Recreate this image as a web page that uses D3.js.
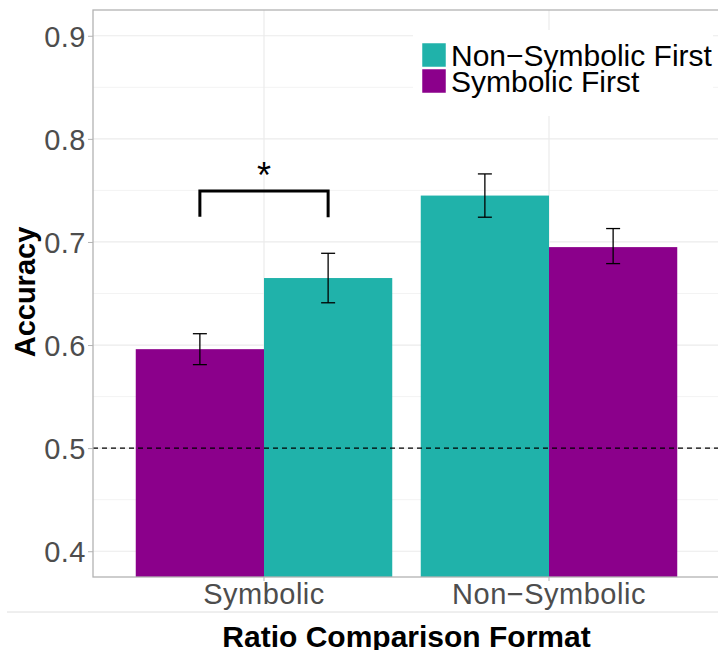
<!DOCTYPE html>
<html lang="en">
<head>
  <meta charset="UTF-8">
  <title>Accuracy by Ratio Comparison Format</title>
  <script src="https://d3js.org/d3.v7.min.js"></script>
  <style>
    body { margin: 0; background: #fff; }
    text { font-family: "Liberation Sans", Arial, sans-serif; }
  </style>
</head>
<body>
  <div id="chart"></div>
  <script>
    // formats on the x axis
    const formats = ["Symbolic", "Non\u2212Symbolic"];
    // bar order inside each group (as drawn, left to right)
    const groupOrder = [
      ["Symbolic First", "Non-Symbolic First"],
      ["Non-Symbolic First", "Symbolic First"]
    ];
    const orders = ["Non-Symbolic First", "Symbolic First"];
    const legendLabels = ["Non\u2212Symbolic First", "Symbolic First"];
    // mean accuracy and error bar bounds, per format then per group order
    const meanAcc = [[0.596, 0.665], [0.745, 0.695]];
    const lowerAcc = [[0.581, 0.641], [0.724, 0.679]];
    const upperAcc = [[0.611, 0.689], [0.766, 0.713]];
    const yTicks = [0.4, 0.5, 0.6, 0.7, 0.8, 0.9];
    const chance = 0.5;

    const width = 718, height = 650;
    const margin = { left: 93, top: 10, right: -2, bottom: 73 };
    const colors = { "Non-Symbolic First": "#20B2AA", "Symbolic First": "#8B008B" };

    const svg = d3.select("#chart").append("svg")
      .attr("width", width)
      .attr("height", height);

    // ggplot discrete scale: each category gets 1 unit, 0.6 expansion at the edges
    const step = (width - margin.right - margin.left) / (formats.length + 0.2);
    const center = i => margin.left + 0.6 * step + i * step;
    const barW = 0.45 * step;

    const y = d3.scaleLinear()
      .domain([0.375, 0.925])
      .range([height - margin.bottom, margin.top]);

    const panelL = margin.left, panelR = width - margin.right;
    const panelT = margin.top, panelB = height - margin.bottom;

    // minor grid
    const minor = d3.range(0.35, 0.95, 0.1).map(d => +d.toFixed(2));
    svg.append("g").selectAll("line").data(minor.filter(d => d > 0.375 && d < 0.925)).join("line")
      .attr("x1", panelL).attr("x2", panelR)
      .attr("y1", d => y(d)).attr("y2", d => y(d))
      .attr("stroke", "#f3f3f3").attr("stroke-width", 1);

    // major grid
    svg.append("g").selectAll("line").data(yTicks).join("line")
      .attr("x1", panelL).attr("x2", panelR)
      .attr("y1", d => y(d)).attr("y2", d => y(d))
      .attr("stroke", "#ebebeb").attr("stroke-width", 1.2);
    svg.append("g").selectAll("line").data(formats).join("line")
      .attr("x1", (d, i) => center(i)).attr("x2", (d, i) => center(i))
      .attr("y1", panelT).attr("y2", panelB)
      .attr("stroke", "#ebebeb").attr("stroke-width", 1.2);

    // bars
    const bars = [];
    formats.forEach((f, i) => {
      groupOrder[i].forEach((o, j) => {
        bars.push({ i, j, order: o, mean: meanAcc[i][j], lo: lowerAcc[i][j], hi: upperAcc[i][j] });
      });
    });
    const barX = d => center(d.i) - barW + d.j * barW;

    svg.append("g").selectAll("rect").data(bars).join("rect")
      .attr("x", barX)
      .attr("width", barW)
      .attr("y", d => y(d.mean))
      .attr("height", d => panelB - y(d.mean))
      .attr("fill", d => colors[d.order]);

    // chance line
    svg.append("line")
      .attr("x1", panelL).attr("x2", panelR)
      .attr("y1", y(chance)).attr("y2", y(chance))
      .attr("stroke", "#000").attr("stroke-width", 1.2)
      .attr("stroke-dasharray", "5,4");

    // error bars
    const eb = svg.append("g").attr("stroke", "#000").attr("stroke-width", 1.3);
    bars.forEach(d => {
      const cx = barX(d) + barW / 2;
      eb.append("line").attr("x1", cx).attr("x2", cx).attr("y1", y(d.lo)).attr("y2", y(d.hi));
      eb.append("line").attr("x1", cx - 7).attr("x2", cx + 7).attr("y1", y(d.lo)).attr("y2", y(d.lo));
      eb.append("line").attr("x1", cx - 7).attr("x2", cx + 7).attr("y1", y(d.hi)).attr("y2", y(d.hi));
    });

    // significance bracket over the symbolic pair
    const bx1 = barX(bars[0]) + barW / 2, bx2 = barX(bars[1]) + barW / 2;
    svg.append("path")
      .attr("d", `M${bx1},${y(0.7245)} V${y(0.7495)} H${bx2} V${y(0.724)}`)
      .attr("fill", "none").attr("stroke", "#000").attr("stroke-width", 3);
    svg.append("text")
      .attr("x", (bx1 + bx2) / 2).attr("y", y(0.7495) - 3)
      .attr("text-anchor", "middle")
      .attr("font-size", 36)
      .text("*");

    // panel border
    svg.append("rect")
      .attr("x", panelL).attr("y", panelT)
      .attr("width", panelR - panelL).attr("height", panelB - panelT)
      .attr("fill", "none").attr("stroke", "#b3b3b3").attr("stroke-width", 1.3);

    // y axis
    const yAxis = svg.append("g")
      .attr("transform", `translate(${panelL},0)`)
      .call(d3.axisLeft(y).tickValues(yTicks).tickSize(5).tickPadding(2).tickFormat(d3.format(".1f")));
    yAxis.select(".domain").remove();
    yAxis.selectAll(".tick line").attr("stroke", "#b3b3b3");
    yAxis.selectAll(".tick text").attr("fill", "#4d4d4d").attr("font-size", 29)
      .attr("letter-spacing", 0.5)
      .attr("font-family", "Liberation Sans, Arial, sans-serif").attr("dy", "0.36em");

    // x axis labels
    svg.append("g").selectAll("line").data(formats).join("line")
      .attr("x1", (d, i) => center(i)).attr("x2", (d, i) => center(i))
      .attr("y1", panelB).attr("y2", panelB + 4)
      .attr("stroke", "#b3b3b3");
    svg.append("g").selectAll("text").data(formats).join("text")
      .attr("x", (d, i) => center(i)).attr("y", 604)
      .attr("text-anchor", "middle")
      .attr("fill", "#4d4d4d").attr("font-size", 29).attr("letter-spacing", 0.5)
      .text(d => d);

    svg.append("line")
      .attr("x1", 7).attr("x2", width).attr("y1", 612).attr("y2", 612)
      .attr("stroke", "#dedede").attr("stroke-width", 1);

    // titles
    svg.append("text")
      .attr("x", (panelL + panelR) / 2).attr("y", 647)
      .attr("text-anchor", "middle").attr("font-weight", "bold").attr("font-size", 30)
      .text("Ratio Comparison Format");
    svg.append("text")
      .attr("transform", `translate(35,${292}) rotate(-90)`)
      .attr("text-anchor", "middle").attr("font-weight", "bold").attr("font-size", 29)
      .text("Accuracy");

    // legend
    const lg = svg.append("g").attr("transform", "translate(413,30)");
    lg.append("rect").attr("width", 300).attr("height", 86).attr("fill", "#fff");
    orders.forEach((o, k) => {
      lg.append("rect")
        .attr("x", 9).attr("y", 13 + k * 26)
        .attr("width", 24).attr("height", 24)
        .attr("fill", colors[o]).attr("stroke", "#fff").attr("stroke-width", 0.5);
      lg.append("text")
        .attr("x", 38).attr("y", 36 + k * 25.5)
        .attr("font-size", 30).attr("fill", "#000")
        .text(legendLabels[k]);
    });
  </script>
</body>
</html>
